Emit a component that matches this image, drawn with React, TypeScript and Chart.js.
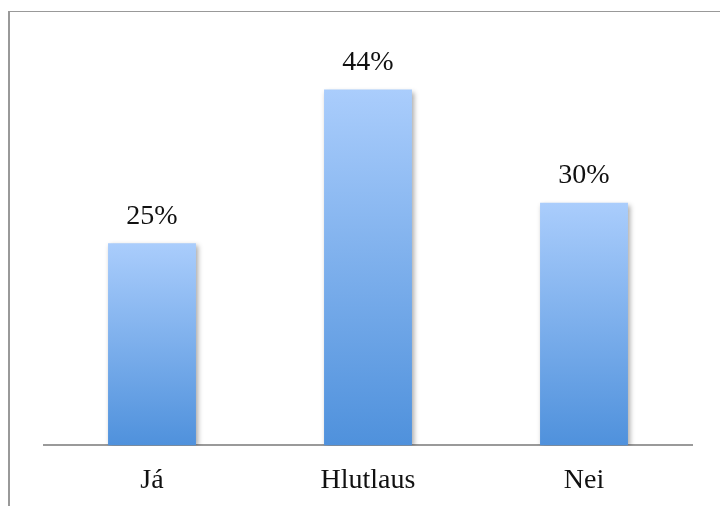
import React, { useEffect, useRef } from "react";
import { Chart, registerables } from "chart.js";

Chart.register(...registerables);

const categories = ["Já", "Hlutlaus", "Nei"];
const values = [25, 44, 30];
const valueLabels = ["25%", "44%", "30%"];
const yMax = 50;

const FONT = "'Liberation Serif', 'Times New Roman', serif";

export default function App() {
  const ref = useRef<HTMLCanvasElement>(null);

  useEffect(() => {
    const canvas = ref.current;
    if (!canvas) return;

    const shadowPlugin = {
      id: "barShadow",
      beforeDatasetDraw(chart: any) {
        const ctx = chart.ctx;
        ctx.save();
        ctx.shadowColor = "rgba(0,0,0,0.35)";
        ctx.shadowBlur = 5;
        ctx.shadowOffsetX = 2;
        ctx.shadowOffsetY = 2;
      },
      afterDatasetDraw(chart: any) {
        chart.ctx.restore();
      },
    };

    const labelPlugin = {
      id: "valueLabels",
      afterDatasetsDraw(chart: any) {
        const ctx = chart.ctx;
        const meta = chart.getDatasetMeta(0);
        ctx.save();
        ctx.font = `28px ${FONT}`;
        ctx.fillStyle = "#111";
        ctx.textAlign = "center";
        ctx.textBaseline = "middle";
        meta.data.forEach((bar: any, i: number) => {
          ctx.fillText(valueLabels[i], bar.x, bar.y - 27);
        });
        ctx.restore();
      },
    };

    const chart = new Chart(canvas, {
      type: "bar",
      data: {
        labels: categories,
        datasets: [
          {
            data: values,
            backgroundColor: (context: any) => {
              const c = context.chart;
              const area = c.chartArea;
              const ys = c.scales && c.scales.y;
              if (!area || !ys || context.parsed == null) return "#7fb0ec";
              const top = ys.getPixelForValue(context.parsed.y);
              const bottom = ys.getPixelForValue(0);
              const g = c.ctx.createLinearGradient(0, top, 0, bottom);
              g.addColorStop(0, "#aacdfc");
              g.addColorStop(1, "#4f91dc");
              return g;
            },
            borderWidth: 0,
            categoryPercentage: 1,
            barPercentage: 0.407,
          },
        ],
      },
      options: {
        animation: false,
        responsive: false,
        maintainAspectRatio: false,
        layout: { padding: { left: 44, right: 28, top: 41, bottom: -9 } },
        plugins: {
          legend: { display: false },
          tooltip: { enabled: false },
        },
        scales: {
          x: {
            grid: { display: false, drawTicks: false },
            border: { display: true, color: "#9a9a9a", width: 2 },
            ticks: {
              color: "#111",
              font: { family: FONT, size: 28 },
              padding: 18,
            },
          },
          y: {
            display: false,
            min: 0,
            max: yMax,
          },
        },
      },
      plugins: [shadowPlugin, labelPlugin],
    });

    return () => chart.destroy();
  }, []);

  return (
    <div
      style={{
        position: "fixed",
        left: 0,
        top: 0,
        width: 720,
        height: 506,
        overflow: "hidden",
        background: "#fff",
      }}
    >
      <div
        style={{
          position: "absolute",
          left: 8,
          top: 11,
          width: 800,
          height: 600,
          borderLeft: "2px solid #999",
          borderTop: "1px solid #999",
        }}
      />
      <canvas
        ref={ref}
        width={720}
        height={506}
        style={{ position: "absolute", left: 0, top: 0, width: 720, height: 506 }}
      />
    </div>
  );
}
